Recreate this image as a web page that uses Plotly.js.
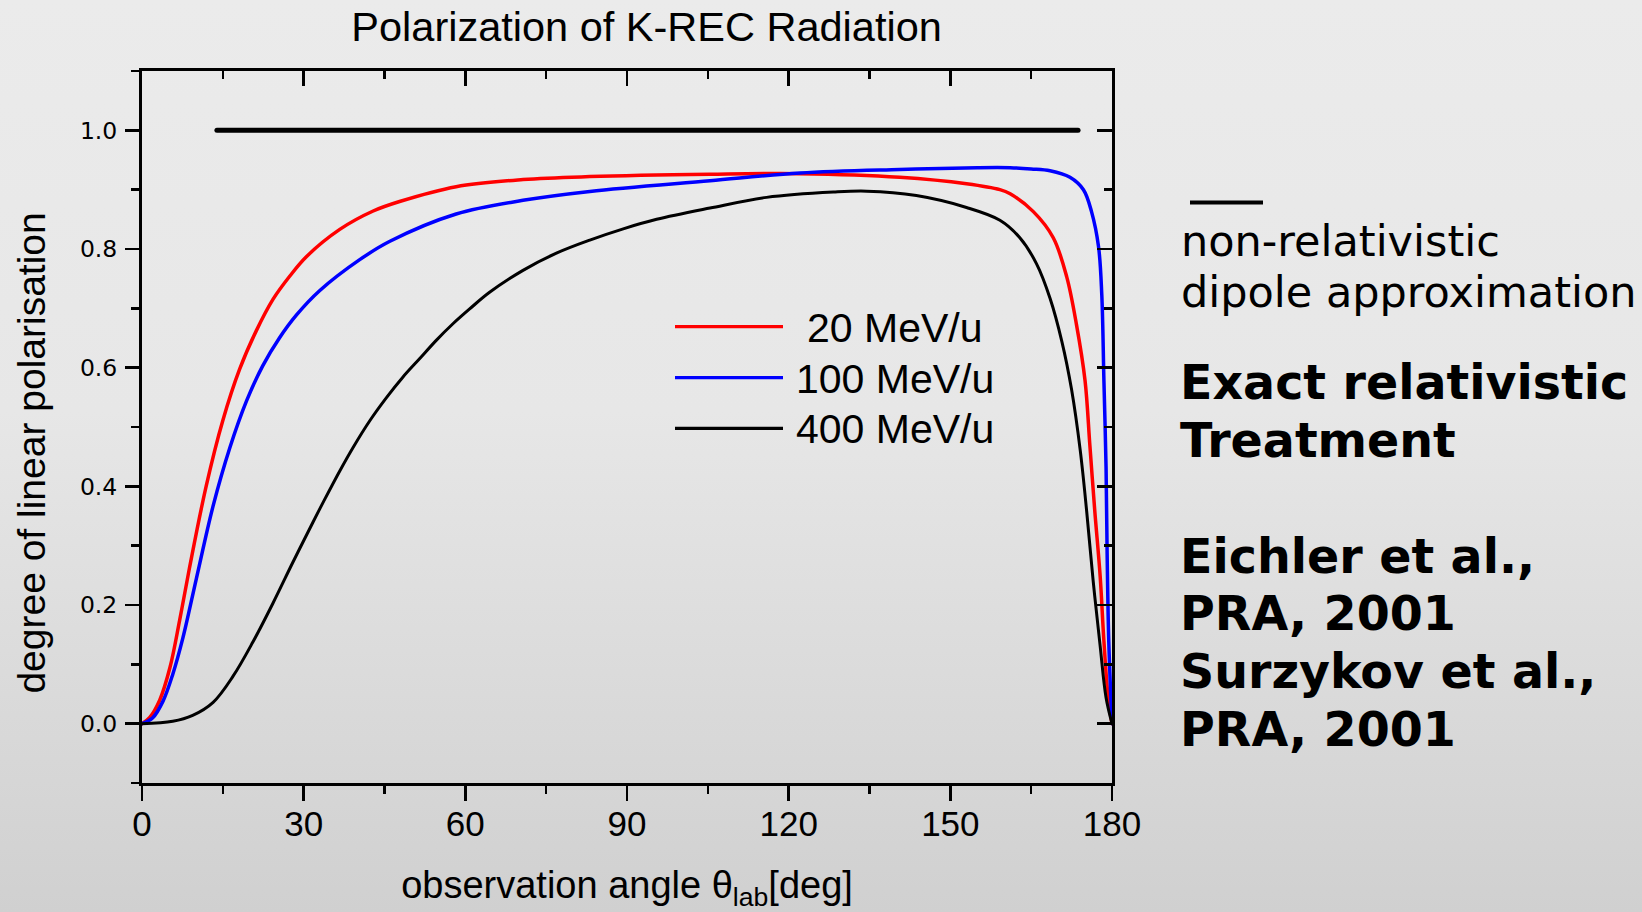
<!DOCTYPE html>
<html><head><meta charset="utf-8">
<script src="https://cdn.plot.ly/plotly-3.0.1.min.js"></script>
<style>
html,body{margin:0;padding:0;}
body{width:1642px;height:912px;overflow:hidden;background:linear-gradient(to bottom,#ebebeb 0%,#e7e7e7 45%,#d0d0d0 100%);}
#chart{width:1642px;height:912px;}
.scatterlayer .js-line{stroke-linecap:round;stroke-linejoin:round;}
</style></head><body><div id="chart"></div>
<script>
// ---- data ----
const seriesNames = ["20 MeV/u", "100 MeV/u", "400 MeV/u"];

const theta20 = [0, 1.4, 3.3, 5.2, 7.0, 8.8, 11.9, 15.0, 18.1, 21.2, 24.3, 27.4, 30.5, 36.7, 42.9, 47.8, 58.3, 70.7, 83.1, 105.4, 122.0, 140.6, 153.0, 159.2, 161.1, 165.4, 169.1, 171.6, 173.4, 175.0, 175.9, 176.8, 177.8, 178.5, 179.3, 180];
const pol20   = [0, 0.010, 0.040, 0.095, 0.175, 0.262, 0.400, 0.511, 0.597, 0.662, 0.715, 0.754, 0.787, 0.833, 0.864, 0.880, 0.905, 0.917, 0.922, 0.926, 0.927, 0.921, 0.910, 0.900, 0.893, 0.863, 0.819, 0.753, 0.673, 0.578, 0.468, 0.359, 0.249, 0.139, 0.043, 0];

const theta100 = [0, 2.0, 3.9, 5.7, 7.6, 10.1, 13.2, 16.3, 19.4, 22.4, 25.5, 28.6, 33.0, 40.4, 46.0, 58.3, 70.7, 83.1, 105.4, 122.1, 140.6, 155.0, 161.1, 165.0, 168.5, 172.2, 174.7, 176.2, 177.5, 178.1, 178.5, 178.9, 179.1, 179.4, 180];
const pol100   = [0, 0.010, 0.038, 0.083, 0.145, 0.245, 0.367, 0.465, 0.544, 0.603, 0.650, 0.688, 0.730, 0.782, 0.813, 0.859, 0.882, 0.897, 0.915, 0.928, 0.934, 0.937, 0.937, 0.935, 0.932, 0.921, 0.900, 0.863, 0.804, 0.724, 0.578, 0.431, 0.285, 0.139, 0];

const theta400 = [0, 5.7, 9.4, 13.2, 16.9, 20.6, 24.3, 28.0, 31.7, 33.9, 36.7, 39.2, 42.3, 45.4, 48.4, 51.5, 54.6, 57.7, 60.8, 64.5, 70.7, 76.9, 83.1, 89.3, 95.5, 105.4, 115.9, 128.3, 134.5, 143.7, 153.0, 159.2, 162.9, 166.0, 168.5, 170.7, 172.5, 174.1, 175.3, 176.5, 177.8, 178.9, 180];
const pol400   = [0, 0.004, 0.014, 0.036, 0.080, 0.138, 0.203, 0.272, 0.339, 0.378, 0.426, 0.466, 0.511, 0.550, 0.584, 0.615, 0.646, 0.674, 0.699, 0.727, 0.764, 0.793, 0.815, 0.834, 0.850, 0.869, 0.887, 0.896, 0.8975, 0.890, 0.870, 0.8485, 0.819, 0.775, 0.717, 0.644, 0.563, 0.461, 0.358, 0.241, 0.131, 0.0435, 0];

const dipoleName  = "non-relativistic dipole approximation";
const dipoleTheta = [13.9, 173.7];
const dipolePol   = [1.0, 1.0];

const xTickVals = [0, 30, 60, 90, 120, 150, 180];
const xTickText = ["0", "30", "60", "90", "120", "150", "180"];
const yTickVals = [0.0, 0.2, 0.4, 0.6, 0.8, 1.0];
const yTickText = ["0.0", "0.2", "0.4", "0.6", "0.8", "1.0"];

const titleText  = "Polarization of K-REC Radiation";
const xTitleText = "observation angle θ<sub>lab</sub>[deg]";
const yTitleText = "degree of linear polarisation";
const noteLines  = ["non-relativistic", "dipole approximation"];
const boldLines  = ["Exact relativistic", "Treatment", "Eichler et al.,", "PRA, 2001", "Surzykov et al.,", "PRA, 2001"];

// ---- geometry ----
const PL = 142, PR = 1112, PT = 71, PB = 783;
const px = x => (x - PL) / (PR - PL);
const py = y => (PB - y) / (PB - PT);
const ARIAL = "Liberation Sans, Arial, sans-serif";
const VERD = "DejaVu Sans, Verdana, sans-serif";

const colors = ["#ff0000", "#0000ff", "#000000"];
const widths = [3.5, 3.5, 3];
const xs = [theta20, theta100, theta400];
const ys = [pol20, pol100, pol400];

const traces = [];
traces.push({x: dipoleTheta, y: dipolePol, mode: "lines", name: dipoleName, showlegend: false,
  line: {color: "#000", width: 5}, hoverinfo: "skip"});
for (let i = 0; i < 3; i++) {
  traces.push({x: xs[i], y: ys[i], mode: "lines", name: seriesNames[i], showlegend: false,
    line: {color: colors[i], width: widths[i], shape: "spline", smoothing: 1.0}});
}
// mirror axes holder
traces.push({x: [], y: [], xaxis: "x2", yaxis: "y2", mode: "lines", showlegend: false, hoverinfo: "skip"});

const shapes = [];
const annotations = [];
// y-axis title (placed as rotated annotation to match the off-centre position)
const yTitleFont = 39;
annotations.push({xref: "paper", yref: "paper", x: px(31.6), y: py(453), xanchor: "center", yanchor: "middle",
  textangle: -90, showarrow: false, text: yTitleText, font: {family: ARIAL, size: yTitleFont, color: "#000"}});
// in-plot legend
const legLineY = [326.6, 377.7, 428.3];
const legBase = [341.7, 393.3, 443.3];
const legFont = 41;
for (let i = 0; i < 3; i++) {
  shapes.push({type: "line", xref: "paper", yref: "paper", x0: px(675), x1: px(783), y0: py(legLineY[i]), y1: py(legLineY[i]),
    line: {color: colors[i], width: 3.3}});
  annotations.push({xref: "paper", yref: "paper", x: px(895), y: py(legBase[i] - 0.346 * legFont),
    xanchor: "center", yanchor: "middle", showarrow: false, text: seriesNames[i],
    font: {family: ARIAL, size: legFont, color: "#000"}});
}
// side legend line
shapes.push({type: "line", xref: "paper", yref: "paper", x0: px(1190), x1: px(1263), y0: py(202.5), y1: py(202.5),
  line: {color: "#000", width: 4}});
const noteBase = [255.7, 307.3];
const noteFont = 43;
noteLines.forEach((t, i) => annotations.push({xref: "paper", yref: "paper", x: px(1179), y: py(noteBase[i] - 0.346 * noteFont),
  xanchor: "left", yanchor: "middle", showarrow: false, text: t, font: {family: VERD, size: noteFont, color: "#000"}}));
const boldBase = [399, 456.6, 572.5, 630, 688, 745.5];
const boldFont = 47.5;
boldLines.forEach((t, i) => annotations.push({xref: "paper", yref: "paper", x: px(1178), y: py(boldBase[i] - 0.346 * boldFont),
  xanchor: "left", yanchor: "middle", showarrow: false, text: "<b>" + t + "</b>", font: {family: VERD, size: boldFont, color: "#000"}}));

const axisCommon = {showline: true, linewidth: 3, linecolor: "#000", showgrid: false, zeroline: false,
  tickcolor: "#000", tickwidth: 2.5, fixedrange: true};

const layout = {
  width: 1642, height: 912,
  paper_bgcolor: "rgba(0,0,0,0)", plot_bgcolor: "rgba(0,0,0,0)",
  margin: {l: PL, r: 1642 - PR, t: PT, b: 912 - PB, pad: 0},
  showlegend: false,
  title: {text: titleText, font: {family: ARIAL, size: 41.5, color: "#000"},
    xref: "paper", x: px(646.6), xanchor: "center", yref: "container", y: 1 - 26.5 / 912, yanchor: "middle"},
  xaxis: Object.assign({}, axisCommon, {range: [0, 180], tickvals: xTickVals, ticktext: xTickText,
    ticks: "outside", ticklen: 15, ticklabelstandoff: -7,
    tickfont: {family: ARIAL, size: 35, color: "#000"},
    minor: {dtick: 15, tick0: 0, ticks: "outside", ticklen: 8, tickwidth: 2.5, tickcolor: "#000", showgrid: false},
    title: {text: xTitleText, font: {family: ARIAL, size: 38, color: "#000"}, standoff: 52}}),
  yaxis: Object.assign({}, axisCommon, {range: [-0.1, 1.1], tickvals: yTickVals, ticktext: yTickText,
    ticks: "outside", ticklen: 14, ticklabelstandoff: 3,
    tickfont: {family: VERD, size: 23.5, color: "#000"},
    minor: {dtick: 0.1, tick0: 0, ticks: "outside", ticklen: 8, tickwidth: 2.5, tickcolor: "#000", showgrid: false}}),
  xaxis2: Object.assign({}, axisCommon, {overlaying: "x", side: "top", anchor: "y2", range: [0, 180],
    tickvals: xTickVals, showticklabels: false, ticks: "inside", ticklen: 15,
    minor: {dtick: 15, tick0: 0, ticks: "inside", ticklen: 8, tickwidth: 2.5, tickcolor: "#000", showgrid: false}}),
  yaxis2: Object.assign({}, axisCommon, {overlaying: "y", side: "right", anchor: "x2", range: [-0.1, 1.1],
    tickvals: yTickVals, showticklabels: false, ticks: "inside", ticklen: 15,
    minor: {dtick: 0.1, tick0: 0, ticks: "inside", ticklen: 8, tickwidth: 2.5, tickcolor: "#000", showgrid: false}}),
  shapes: shapes,
  annotations: annotations
};

Plotly.newPlot("chart", traces, layout, {displayModeBar: false, staticPlot: true});
</script></body></html>
